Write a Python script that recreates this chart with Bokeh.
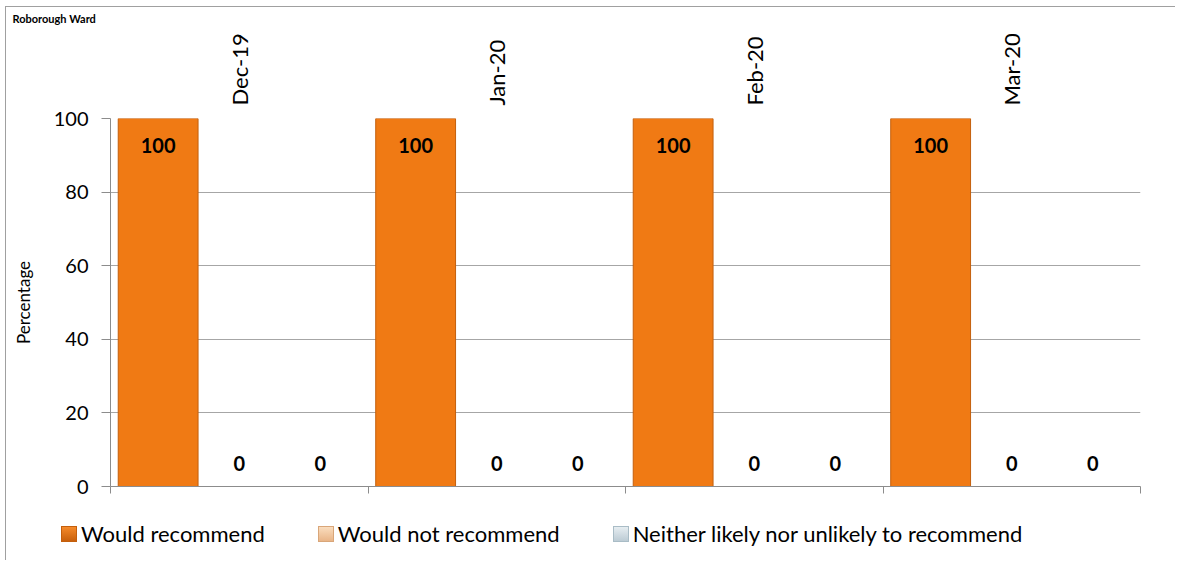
import math
from bokeh.plotting import figure
from bokeh.layouts import column
from bokeh.models import (ColumnDataSource, Range1d, LinearAxis, FixedTicker, Title, Div)
from bokeh.core.properties import value
from bokeh.embed import file_html
from bokeh.resources import INLINE

# ---- data ----
months = ["Dec-19", "Jan-20", "Feb-20", "Mar-20"]
would_recommend = [100, 100, 100, 100]
would_not_recommend = [0, 0, 0, 0]
neither = [0, 0, 0, 0]
series_names = ["Would recommend", "Would not recommend",
                "Neither likely nor unlikely to recommend"]
y_ticks = [0, 20, 40, 60, 80, 100]

FONT = "Lato"
colors = ["#F07A14", "#F2C49A", "#CFDCE3"]
edge_colors = ["#C45F0C", "#D9A679", "#A9BCC6"]
legend_grads = [("#F58A2A", "#C8600C"), ("#FADDBE", "#E9B588"), ("#E6EDF1", "#BCCBD4")]
offsets = [-0.315, 0.0, 0.315]
bar_w = 0.31

n = len(months)
centers = [i + 0.5 for i in range(n)]

W = 1175
p = figure(width=W, height=510, x_range=Range1d(0, n),
           y_range=Range1d(0, 100), x_axis_location=None, y_axis_location=None,
           output_backend="svg", toolbar_location=None,
           min_border_left=110, min_border_right=W - 1140, min_border_top=118,
           min_border_bottom=24)
p.outline_line_color = None
p.background_fill_color = "white"
p.border_fill_color = None

p.title = Title(text="Roborough Ward", align="left", offset=-98,
                text_font=FONT, text_font_size="11px", text_font_style="bold",
                text_color="black", standoff=12)

# top axis: month labels only
xa = LinearAxis(ticker=FixedTicker(ticks=centers),
                major_label_overrides={c: m for c, m in zip(centers, months)})
xa.axis_line_color = None
xa.major_tick_line_color = None
xa.minor_tick_line_color = None
xa.major_label_orientation = math.pi / 2
xa.major_label_standoff = 7
xa.major_label_text_font = FONT
xa.major_label_text_font_size = "22px"
xa.major_label_text_color = "black"
p.add_layout(xa, "above")

# bottom axis: ticks at category boundaries, no labels
bx = LinearAxis(ticker=FixedTicker(ticks=list(range(n + 1))))
bx.axis_line_color = "#8C8C8C"
bx.major_tick_line_color = "#8C8C8C"
bx.major_tick_out = 7
bx.major_tick_in = 0
bx.minor_tick_line_color = None
bx.major_label_text_color = None
bx.major_label_text_font_size = "1px"
p.add_layout(bx, "below")

# y axis
ya = LinearAxis(ticker=FixedTicker(ticks=y_ticks))
ya.axis_line_color = "#8C8C8C"
ya.major_tick_line_color = "#8C8C8C"
ya.major_tick_out = 9
ya.major_tick_in = 0
ya.minor_tick_line_color = None
ya.major_label_standoff = 13
ya.major_label_text_font = FONT
ya.major_label_text_font_size = "20px"
ya.major_label_text_color = "black"
ya.axis_label = "Percentage"
ya.axis_label_text_font = FONT
ya.axis_label_text_font_size = "17px"
ya.axis_label_text_font_style = "normal"
ya.axis_label_text_color = "black"
ya.axis_label_standoff = 17
p.add_layout(ya, "left")

# grid
p.xgrid.grid_line_color = None
p.ygrid.ticker = FixedTicker(ticks=y_ticks)
p.ygrid.grid_line_color = "#A6A6A6"
p.ygrid.grid_line_width = 1

# bars and labels
all_values = [would_recommend, would_not_recommend, neither]
for i, vals in enumerate(all_values):
    src = ColumnDataSource(dict(
        x=[c + offsets[i] for c in centers], val=vals,
        lbl=[str(v) for v in vals],
        yoff=[27 if v > 0 else -23 for v in vals],
    ))
    p.vbar(x="x", top="val", bottom=0, width=bar_w, source=src,
           fill_color=colors[i], line_color=edge_colors[i], line_width=1)
    p.text(x="x", y="val", text="lbl", y_offset="yoff", source=src,
           text_align="center", text_baseline="middle",
           text_font=value(FONT), text_font_size="20px", text_font_style="bold",
           text_color="black")

# legend strip (HTML) below the chart
item_html = []
for i, name in enumerate(series_names):
    top, bot = legend_grads[i]
    item_html.append(
        f'<span style="display:inline-flex;align-items:center;margin-right:53px;">'
        f'<span style="display:inline-block;width:16px;height:16px;box-sizing:border-box;'
        f'border:1px solid {edge_colors[i]};'
        f'background:linear-gradient(to bottom,{top},{bot});margin-right:4px;"></span>'
        f'<span>{name}</span></span>'
    )
legend_div = Div(
    text=('<div style="display:flex;align-items:center;padding-left:61px;padding-top:23px;'
          f'height:24px;line-height:24px;font-family:{FONT};font-size:22px;color:black;'
          'white-space:nowrap;">' + "".join(item_html) + '</div>'),
    width=W, height=50, margin=(0, 0, 0, 0))

layout = column(p, legend_div, spacing=0, styles={
    "background-color": "white",
    "background-image": "linear-gradient(#A0A0A0,#A0A0A0), linear-gradient(#A0A0A0,#A0A0A0)",
    "background-size": "1px 100%, 100% 1px",
    "background-position": "5px 6px, 5px 6px",
    "background-repeat": "no-repeat",
})
open("out.html", "w").write(file_html(layout, INLINE))
